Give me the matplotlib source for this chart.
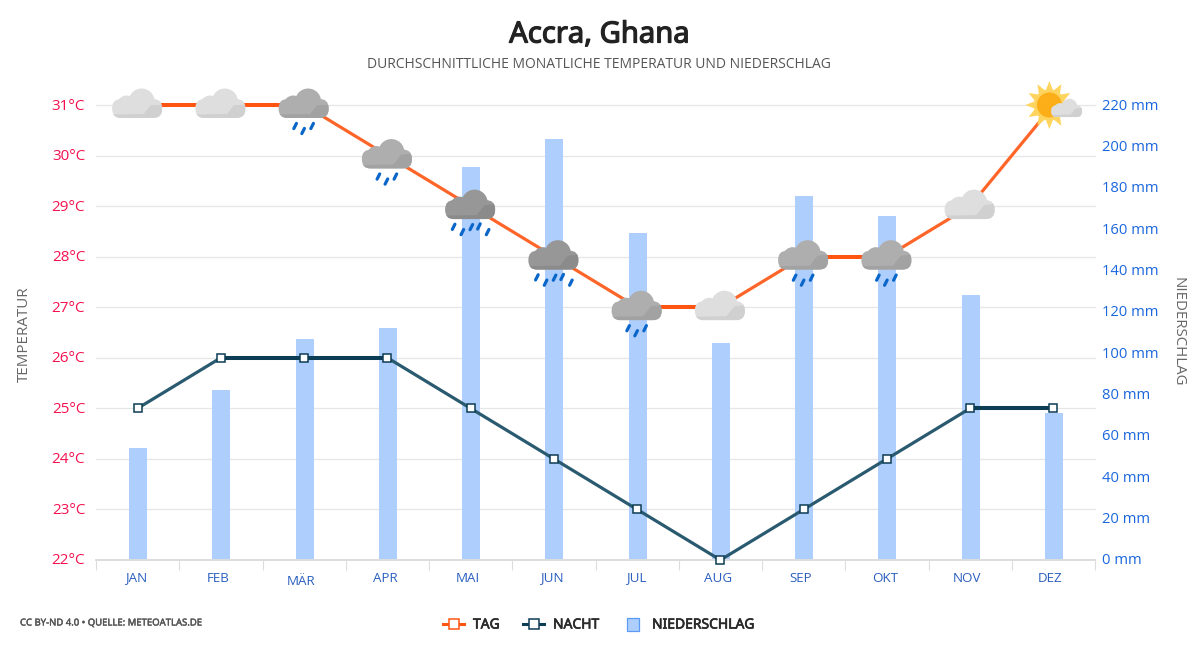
import numpy as np
import matplotlib
matplotlib.use("Agg")
import matplotlib.pyplot as plt
import matplotlib.patheffects as pe
from matplotlib.lines import Line2D
from matplotlib.patches import Circle, FancyBboxPatch, Polygon, Rectangle
from matplotlib.transforms import Affine2D, ScaledTranslation

plt.rcParams['font.family'] = ['Open Sans', 'DejaVu Sans']
BOLD_FONT = ['Noto Sans', 'DejaVu Sans']

months = ["JAN", "FEB", "MÄR", "APR", "MAI", "JUN", "JUL", "AUG", "SEP", "OKT", "NOV", "DEZ"]
temp_day = [31, 31, 31, 30, 29, 28, 27, 27, 28, 28, 29, 31]
temp_night = [25, 26, 26, 26, 25, 24, 23, 22, 23, 24, 25, 25]
rain = [54, 82, 107, 112, 190, 203.5, 158, 105, 176, 166.5, 128, 71]
# weather icon per month
icons = ["light", "light", "rain", "rain", "heavy", "heavy", "rain", "light", "rain", "rain", "light", "sun"]

temp_ticks = list(range(22, 32))
rain_ticks = list(range(0, 221, 20))

ORANGE = "#ff5511"
ORANGE_SLOPE = "#ff6529"
NAVY = "#0d3c55"
NAVY_SLOPE = "#2a5a70"
RED = "#f5114f"
BLUE = "#1a66dd"
MONTH_BLUE = "#2a5fbf"
GREY = "#666666"
GRID = "#e6e6e6"

W, H = 1200, 650
fig = plt.figure(figsize=(W / 100, H / 100), dpi=100)


def fx(px):
    return px / W


def fy(py):
    return 1 - py / H


def bold_text(px, py, s, size, stroke, color, ha="left"):
    # the bold cut does not load here, so thicken the regular one
    fig.text(fx(px), fy(py), s, ha=ha, va="center", fontsize=size, family=BOLD_FONT, color=color,
             path_effects=[pe.withStroke(linewidth=stroke, foreground=color)])


def draw_cloud(ax, base, zorder, body, shade, scale=1.0, dx=0, dy=0):
    def add(p):
        p.set_transform(base)
        p.set_clip_on(False)
        p.set_zorder(zorder)
        ax.add_patch(p)
        return p

    def sx(v):
        return dx + v * scale

    def sy(v):
        return dy + v * scale

    r = 9 * scale
    box = FancyBboxPatch((sx(-25.5) + r, sy(-13) + r), 50 * scale - 2 * r, 19 * scale - 2 * r,
                         boxstyle=f"round,pad={r},rounding_size={r}", fc=body, ec="none")
    add(box)
    add(Circle((sx(4), sy(3.5)), 13 * scale, fc=body, ec="none"))
    add(Circle((sx(-11), sy(0)), 9.5 * scale, fc=body, ec="none"))
    # darker bottom strip and wedge, clipped to the base
    strip = add(Polygon([(sx(-26), sy(-13)), (sx(25), sy(-13)), (sx(25), sy(2)), (sx(14), sy(1)),
                         (sx(6), sy(-9)), (sx(-26), sy(-9.5))], fc=shade, ec="none"))
    strip.set_clip_on(True)
    strip.set_clip_path(box.get_path(), box.get_transform())


def draw_drops(ax, base, zorder, spots):
    for (x, y) in spots:
        ax.add_line(Line2D([x - 1.3, x + 1.3], [y - 2.6, y + 2.6], transform=base, color="#0a66c8",
                           lw=2.3, solid_capstyle="round", clip_on=False, zorder=zorder))


def draw_sun(ax, base, zorder):
    cx = -4
    angles = np.deg2rad(np.arange(0, 360, 30))
    for a in angles:
        tip = (cx + 24 * np.cos(a), 24 * np.sin(a))
        l = (cx + 14 * np.cos(a + 0.3), 14 * np.sin(a + 0.3))
        r = (cx + 14 * np.cos(a - 0.3), 14 * np.sin(a - 0.3))
        ax.add_patch(Polygon([tip, l, r], fc="#ffd45e", ec="none", transform=base, clip_on=False, zorder=zorder))
    ax.add_patch(Circle((cx, 0), 15.5, fc="#ffd45e", ec="none", transform=base, clip_on=False, zorder=zorder))
    ax.add_patch(Circle((cx, 0), 12.5, fc="#fbae17", ec="none", transform=base, clip_on=False, zorder=zorder))


def plot_temp_line(ax, x, temps, flat_col, slope_col, zorder):
    # flat stretches come out heavier and darker than the sloped ones in the reference
    for i in range(len(temps) - 1):
        flat = temps[i] == temps[i + 1]
        ax.plot(x[i:i + 2], temps[i:i + 2], color=flat_col if flat else slope_col, lw=2.9 if flat else 2.3,
                clip_on=False, zorder=zorder, solid_capstyle="butt")


ax_rain = fig.add_axes([fx(96), fy(560), 999 / W, 455 / H])
ax = ax_rain.twinx()
ax.yaxis.tick_left()
ax_rain.yaxis.tick_right()
ax.set_zorder(ax_rain.get_zorder() + 1)
ax.patch.set_visible(False)

x = np.arange(len(months))
ax_rain.bar(x + 0.005, rain, width=0.216, color="#aecffd", zorder=2)
ax_rain.set_xlim(-0.5, 11.5)
ax_rain.set_ylim(0, 220)
ax.set_ylim(22, 31)

# grid follows the temperature scale but stays behind the bars
for t in temp_ticks[1:]:
    ax_rain.axhline((t - 22) * 220 / 9, color=GRID, lw=0.9, zorder=1, clip_on=False)

ax.set_yticks(temp_ticks)
ax.set_yticklabels([f"{t}°C" for t in temp_ticks], color=RED, fontsize=11)
ax.tick_params(axis="y", length=0, pad=7.8)
ax_rain.set_yticks(rain_ticks)
ax_rain.set_yticklabels([f"{t} mm" for t in rain_ticks], color=BLUE, fontsize=10.6)
ax_rain.tick_params(axis="y", length=0, pad=5)
for lab in ax.get_yticklabels():
    lab.set_transform(lab.get_transform() + Affine2D().translate(0, 1))
for lab in ax_rain.get_yticklabels():
    lab.set_transform(lab.get_transform() + Affine2D().translate(0, 1))

ax_rain.set_xticks(x)
ax_rain.set_xticklabels(months, color=MONTH_BLUE, fontsize=9.6)
ax_rain.set_xticks(np.arange(-0.5, 12, 1), minor=True)
ax_rain.tick_params(axis="x", which="major", length=0, pad=8.3)
ax_rain.tick_params(axis="x", which="minor", length=7.5, width=0.8, color="#dddddd")
ax.tick_params(axis="x", length=0, labelbottom=False)

# the labels do not sit quite centred in the reference
label_dx = [-1.5, -3, -3, -2, -3, -2, -1, -2, -3, -2, -3, -3]
label_dy = [0, 0, -3, 0, 0, 0, 0, 0, 0, 0, 0, 0]
for lab, ddx, ddy in zip(ax_rain.get_xticklabels(), label_dx, label_dy):
    lab.set_transform(lab.get_transform() + Affine2D().translate(ddx, ddy))

for a in (ax, ax_rain):
    for side in ("top", "left", "right"):
        a.spines[side].set_visible(False)
    a.spines["bottom"].set_color("#dddddd")
    a.spines["bottom"].set_linewidth(1.2)

plot_temp_line(ax, x, temp_day, ORANGE, ORANGE_SLOPE, 4)
plot_temp_line(ax, x, temp_night, NAVY, NAVY_SLOPE, 4)
ax.plot(x, temp_night, ls="none", clip_on=False, zorder=5, marker="s", ms=5.4, mfc="white", mec=NAVY, mew=1.1)

# weather icons sit on the day temperature
heavy_spots = [(-17, -20.7), (-8.3, -26), (0.7, -21), (8.3, -20.3), (17, -26)]
light_spots = [(-9, -21), (-1, -26), (8, -21)]
for m, t, kind in zip(x, temp_day, icons):
    base = ScaledTranslation(m, t, ax.transData)
    if kind == "light":
        draw_cloud(ax, base, 6, "#dedede", "#d0d0d0")
    elif kind == "rain":
        draw_cloud(ax, base, 6, "#aeaeae", "#a2a2a2")
        draw_drops(ax, base, 6, light_spots)
    elif kind == "heavy":
        draw_cloud(ax, base, 6, "#979797", "#8b8b8b")
        draw_drops(ax, base, 6, heavy_spots)
    else:
        draw_sun(ax, base, 6)
        draw_cloud(ax, base, 7, "#dedede", "#d0d0d0", scale=0.62, dx=13.5, dy=-4)

# header and axis titles
bold_text(599.5, 35, "Accra, Ghana", 21, 0.9, "#222222", ha="center")
fig.text(fx(598.5), fy(64), "DURCHSCHNITTLICHE MONATLICHE TEMPERATUR UND NIEDERSCHLAG", ha="center", va="center",
         fontsize=9.97, color="#555555")
fig.text(fx(24), fy(334), "TEMPERATUR", rotation=90, ha="center", va="center", fontsize=10.9, color=GREY)
fig.text(fx(1178), fy(331.5), "NIEDERSCHLAG", rotation=270, ha="center", va="center", fontsize=10.8, color=GREY)
bold_text(20, 623, "CC BY-ND 4.0 • QUELLE: METEOATLAS.DE", 6.85, 0.3, "#555555")

# legend
for x0, col, name, tx in [(443, ORANGE, "TAG", 473), (523, NAVY, "NACHT", 553)]:
    fig.add_artist(Line2D([fx(x0), fx(x0 + 21)], [fy(624), fy(624)], color=col, lw=2.2))
    fig.add_artist(Line2D([fx(x0 + 10.5)], [fy(624)], color=col, marker="s", ms=6.6, mfc="white", mec=col, mew=1.1))
    bold_text(tx, 625, name, 10, 0.5, "#2a2a2a")
fig.add_artist(Rectangle((fx(626.5), fy(630.5)), 12.5 / W, 12.5 / H, transform=fig.transFigure,
                         fc="#aecffd", ec="#5c9bf5", lw=0.9))
bold_text(652, 625, "NIEDERSCHLAG", 10, 0.5, "#2a2a2a")

fig.savefig("out.png", dpi=100)
plt.close(fig)
